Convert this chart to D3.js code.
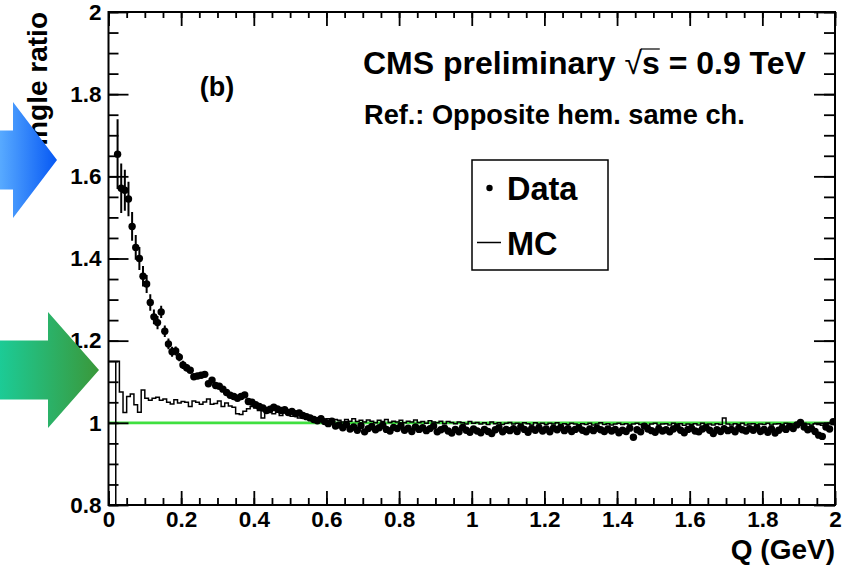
<!DOCTYPE html>
<html>
<head>
<meta charset="utf-8">
<script src="https://cdn.jsdelivr.net/npm/d3@7"></script>
<style>
body { margin: 0; background: #fff; }
text { font-family: "Liberation Sans", Arial, Helvetica, sans-serif; font-weight: bold; fill: #000; }
</style>
</head>
<body>
<div class="chart-container"></div>
<script>
// Binning
const binWidth = 0.01;
const dataFirstCenter = 0.025;

// Data points (single ratio), one per 0.01 GeV bin starting at 0.025
const dataValues = [
    1.654, 1.571, 1.566, 1.545, 1.478, 1.427, 1.400, 1.357, 1.338, 1.293,
    1.258, 1.244, 1.270, 1.223, 1.192, 1.173, 1.175, 1.160, 1.141, 1.134,
    1.128, 1.112, 1.114, 1.116, 1.118, 1.095, 1.104, 1.091, 1.089, 1.082,
    1.074, 1.067, 1.064, 1.060, 1.064, 1.068, 1.052, 1.050, 1.044, 1.040,
    1.036, 1.030, 1.033, 1.038, 1.034, 1.030, 1.032, 1.025, 1.028, 1.022,
    1.024, 1.018, 1.015, 1.012, 1.008, 1.005, 1.010, 1.003,
    0.998, 1.004, 0.992, 0.995, 0.988, 0.996, 0.985, 0.990, 0.982, 0.993,
    0.978, 0.986, 0.991, 0.983, 0.988, 0.994, 0.984, 0.980, 0.989, 0.986,
    0.993, 0.982, 0.987, 0.979, 0.990, 0.984, 0.988, 0.981, 0.986, 0.992,
    0.978, 0.983, 0.987, 0.980, 0.975, 0.984, 0.978, 0.989, 0.982, 0.977,
    0.985, 0.980, 0.976, 0.984, 0.979, 0.974, 0.983, 0.988, 0.978, 0.984,
    0.981, 0.986, 0.979, 0.990, 0.984, 0.977, 0.986, 0.982, 0.988, 0.980,
    0.985, 0.978, 0.987, 0.983, 0.989, 0.981, 0.986, 0.979, 0.984, 0.988,
    0.982, 0.978, 0.985, 0.981, 0.987, 0.983, 0.979, 0.985, 0.980, 0.984,
    0.976, 0.982, 0.979, 0.987, 0.965, 0.983, 0.978, 0.992, 0.985, 0.981,
    0.977, 0.986, 0.980, 0.983, 0.978, 0.985, 0.990, 0.982, 0.976, 0.984,
    0.987, 0.980, 0.978, 0.985, 0.989, 0.982, 0.974, 0.983, 0.979, 0.986,
    0.981, 0.984, 0.978, 0.987, 0.983, 0.980, 0.986, 0.982, 0.988, 0.979,
    0.984, 0.977, 0.985, 0.975, 0.982, 0.988, 0.984, 0.991, 0.986, 0.995,
    1.001, 0.990, 0.983, 0.986, 0.979, 0.970, 0.967, 0.990, 0.985, 1.003
];

// Errors that are visible outside the markers (first bins only)
const dataErrors = [
    0.085, 0.060, 0.050, 0.042, 0.035, 0.030, 0.028, 0.025, 0.022, 0.020,
    0.018, 0.016, 0.015, 0.014, 0.013, 0.012, 0.011, 0.010, 0.010, 0.009
];

// MC histogram, 200 bins of 0.01 GeV from 0
const mcValues = [
    1.150, 1.150, 1.150, 1.075, 1.025, 1.064, 1.070, 1.044, 1.026, 1.080,
    1.060, 1.055, 1.060, 1.062, 1.055, 1.058, 1.050, 1.046, 1.056, 1.048,
    1.052, 1.050, 1.040, 1.053, 1.050, 1.045, 1.051, 1.058, 1.045, 1.047,
    1.053, 1.040, 1.048, 1.041, 1.038, 1.022, 1.020, 1.028, 1.034, 1.040,
    1.036, 1.030, 1.012, 1.030, 1.025, 1.022, 1.026, 1.018, 1.024, 1.020,
    1.016, 1.020, 1.012, 1.018, 1.010, 1.014, 1.008, 1.012, 1.010, 1.006,
    1.010, 1.004, 1.008, 1.006, 1.002, 1.008, 1.004, 1.010, 1.003, 1.006,
    1.002, 1.007, 1.004, 1.000, 1.006, 1.003, 1.008, 1.001, 1.004, 1.002,
    1.006, 1.000, 1.004, 1.002, 1.007, 1.001, 1.003, 0.999, 1.005, 1.002,
    1.000, 1.004, 0.998, 1.003, 1.001, 0.998, 1.002, 1.000, 0.997, 1.003,
    0.999, 1.001, 0.997, 1.000, 0.996, 1.002, 0.998, 1.000, 0.996, 0.999,
    1.001, 0.997, 0.999, 0.996, 1.000, 0.998, 0.995, 1.000, 0.997, 0.999,
    0.996, 0.999, 0.997, 1.000, 0.995, 0.998, 0.996, 0.999, 0.997, 0.995,
    0.998, 0.996, 0.999, 0.995, 0.997, 1.000, 0.996, 0.998, 0.995, 0.997,
    0.999, 0.996, 0.998, 0.995, 0.997, 0.999, 0.996, 0.998, 0.994, 0.997,
    0.999, 0.995, 0.997, 0.998, 0.995, 0.999, 0.996, 0.998, 0.994, 0.997,
    0.996, 0.998, 0.995, 0.999, 0.996, 0.997, 0.995, 0.998, 0.996, 1.012,
    0.997, 0.995, 0.998, 0.996, 0.999, 0.995, 0.997, 0.998, 0.995, 0.997,
    0.996, 0.999, 0.995, 0.997, 0.998, 0.996, 0.999, 0.995, 0.997, 0.998,
    0.996, 0.999, 0.997, 0.995, 0.998, 0.996, 0.994, 0.997, 0.999, 0.996
];
// bin edge where the MC outline drops to the frame bottom
const mcDropEdges = [0.02];

const refLevel = 1;

// Axes
const xDomain = [0, 2];
const yDomain = [0.8, 2];
const xTicks = [0, 0.2, 0.4, 0.6, 0.8, 1, 1.2, 1.4, 1.6, 1.8, 2];
const xTickLabels = ['0', '0.2', '0.4', '0.6', '0.8', '1', '1.2', '1.4', '1.6', '1.8', '2'];
const yTicks = [0.8, 1, 1.2, 1.4, 1.6, 1.8, 2];
const yTickLabels = ['0.8', '1', '1.2', '1.4', '1.6', '1.8', '2'];

const xTitle = 'Q (GeV)';
const yTitle = 'Single ratio';
const panelLabel = '(b)';
const legendLabels = ['Data', 'MC'];

// Margin Convention
const margin = { top: 12, right: 17, bottom: 62, left: 108.5 };
const width = 852 - margin.left - margin.right;
const height = 567 - margin.top - margin.bottom;

const svg = d3.select('.chart-container')
    .append('svg')
    .attr('width', 852)
    .attr('height', 567);

const defs = svg.append('defs');
defs.append('clipPath').attr('id', 'frame-clip')
    .append('rect').attr('width', width).attr('height', height);

const g = svg.append('g')
    .attr('transform', `translate(${margin.left},${margin.top})`);

// Scales
const xScale = d3.scaleLinear().domain(xDomain).range([0, width]);
const yScale = d3.scaleLinear().domain(yDomain).range([height, 0]);

// Reference line at 1
g.append('line')
    .attr('x1', xScale(xDomain[0]))
    .attr('x2', xScale(xDomain[1]))
    .attr('y1', yScale(refLevel))
    .attr('y2', yScale(refLevel))
    .attr('stroke', '#40e040')
    .attr('stroke-width', 2.6);

// MC histogram outline
const plot = g.append('g').attr('clip-path', 'url(#frame-clip)');
const mcPoints = mcValues.map((v, i) => [i * binWidth, v]);
mcPoints.push([mcValues.length * binWidth, mcValues[mcValues.length - 1]]);

const mcLine = d3.line()
    .x(d => xScale(d[0]))
    .y(d => yScale(d[1]))
    .curve(d3.curveStepAfter);

plot.append('path')
    .attr('d', mcLine(mcPoints))
    .attr('fill', 'none')
    .attr('stroke', '#000')
    .attr('stroke-width', 1.5);

plot.selectAll('.mc-drop')
    .data(mcDropEdges)
    .enter()
    .append('line')
    .attr('class', 'mc-drop')
    .attr('x1', d => xScale(d))
    .attr('x2', d => xScale(d))
    .attr('y1', yScale(yDomain[0]))
    .attr('y2', d => yScale(mcValues[Math.round(d / binWidth)]))
    .attr('stroke', '#000')
    .attr('stroke-width', 1.5);

// Data
const dataPoints = dataValues.map((v, i) => ({
    q: dataFirstCenter + i * binWidth,
    r: v,
    err: dataErrors[i]
}));

plot.selectAll('.err')
    .data(dataPoints.filter(d => d.err !== undefined))
    .enter()
    .append('line')
    .attr('class', 'err')
    .attr('x1', d => xScale(d.q))
    .attr('x2', d => xScale(d.q))
    .attr('y1', d => yScale(d.r - d.err))
    .attr('y2', d => yScale(d.r + d.err))
    .attr('stroke', '#000')
    .attr('stroke-width', 2);

plot.selectAll('.pt')
    .data(dataPoints)
    .enter()
    .append('circle')
    .attr('class', 'pt')
    .attr('cx', d => xScale(d.q))
    .attr('cy', d => yScale(d.r))
    .attr('r', 3.7)
    .attr('fill', '#000');

// Axes (ROOT style ticks inside on all four sides)
const xMinor = xScale.ticks(40);
const yMinor = yScale.ticks(24);

function styleAxis(sel) {
    sel.attr('font-size', null).attr('font-family', null);
    sel.select('.domain').remove();
    sel.selectAll('line').attr('stroke', '#000').attr('stroke-width', 1.8);
    sel.selectAll('text').style('font-size', '22.5px');
}

g.append('g')
    .attr('transform', `translate(0,${height})`)
    .call(d3.axisBottom(xScale).tickValues(xMinor).tickSize(-7).tickFormat(''))
    .call(styleAxis);
g.append('g')
    .attr('transform', `translate(0,${height})`)
    .call(d3.axisBottom(xScale).tickValues(xTicks).tickSizeInner(-14).tickSizeOuter(0)
        .tickPadding(6).tickFormat((d, i) => xTickLabels[i]))
    .call(styleAxis);

g.append('g')
    .call(d3.axisTop(xScale).tickValues(xMinor).tickSize(-6).tickFormat(''))
    .call(styleAxis);
g.append('g')
    .call(d3.axisTop(xScale).tickValues(xTicks).tickSize(-14).tickFormat(''))
    .call(styleAxis);

g.append('g')
    .call(d3.axisLeft(yScale).tickValues(yMinor).tickSize(-10).tickFormat(''))
    .call(styleAxis);
g.append('g')
    .call(d3.axisLeft(yScale).tickValues(yTicks).tickSizeInner(-20).tickSizeOuter(0)
        .tickPadding(7).tickFormat((d, i) => yTickLabels[i]))
    .call(styleAxis);

g.append('g')
    .attr('transform', `translate(${width},0)`)
    .call(d3.axisRight(yScale).tickValues(yMinor).tickSize(-11).tickFormat(''))
    .call(styleAxis);
g.append('g')
    .attr('transform', `translate(${width},0)`)
    .call(d3.axisRight(yScale).tickValues(yTicks).tickSize(-21).tickFormat(''))
    .call(styleAxis);

// Frame
g.append('rect')
    .attr('width', width)
    .attr('height', height)
    .attr('fill', 'none')
    .attr('stroke', '#000')
    .attr('stroke-width', 2);

// Axis titles
svg.append('text')
    .attr('x', 835)
    .attr('y', 559)
    .attr('text-anchor', 'end')
    .style('font-size', '28px')
    .text(xTitle);

svg.append('text')
    .attr('transform', 'translate(47,12) rotate(-90)')
    .attr('text-anchor', 'end')
    .style('font-size', '28px')
    .text(yTitle);

// Panel texts
svg.append('text')
    .attr('x', 217)
    .attr('y', 96)
    .attr('text-anchor', 'middle')
    .style('font-size', '27px')
    .text(panelLabel);

const cms = svg.append('text')
    .attr('x', 363)
    .attr('y', 74)
    .style('font-size', '32px');
cms.append('tspan').text('CMS preliminary ');
cms.append('tspan').style('font-weight', 'normal').text('\u221A');
cms.append('tspan').text('s');
cms.append('tspan').text(' = 0.9 TeV');
const sIdx = 'CMS preliminary \u221A'.length;
const cmsNode = cms.node();
const sx0 = cmsNode.getStartPositionOfChar(sIdx).x;
const sx1 = cmsNode.getEndPositionOfChar(sIdx).x;
svg.append('line')
    .attr('x1', sx0 - 1).attr('x2', sx1)
    .attr('y1', 74 - 25).attr('y2', 74 - 25)
    .attr('stroke', '#000').attr('stroke-width', 1.2);

svg.append('text')
    .attr('x', 364)
    .attr('y', 124)
    .style('font-size', '27.2px')
    .text('Ref.: Opposite hem. same ch.');

// Legend
const legend = svg.append('g').attr('transform', 'translate(472,160)');
legend.append('rect')
    .attr('width', 136)
    .attr('height', 110)
    .attr('fill', '#fff')
    .attr('stroke', '#000')
    .attr('stroke-width', 1.5);
legend.append('circle').attr('cx', 17.5).attr('cy', 28).attr('r', 3.2).attr('fill', '#000');
legend.append('line').attr('x1', 5).attr('x2', 29).attr('y1', 82.5).attr('y2', 82.5)
    .attr('stroke', '#000').attr('stroke-width', 1.5);
legend.selectAll('.leg-text')
    .data(legendLabels)
    .enter()
    .append('text')
    .attr('class', 'leg-text')
    .attr('x', 35)
    .attr('y', (d, i) => 40 + i * 55)
    .style('font-size', '32.5px')
    .text(d => d);

// Arrows overlay
const blueGrad = defs.append('linearGradient').attr('id', 'blue-grad')
    .attr('x1', '0%').attr('x2', '100%');
blueGrad.append('stop').attr('offset', '0%').attr('stop-color', '#58aaff');
blueGrad.append('stop').attr('offset', '100%').attr('stop-color', '#0658f4');

const greenGrad = defs.append('linearGradient').attr('id', 'green-grad')
    .attr('x1', '0%').attr('x2', '100%');
greenGrad.append('stop').attr('offset', '0%').attr('stop-color', '#1ccb96');
greenGrad.append('stop').attr('offset', '100%').attr('stop-color', '#3a983a');

function arrowPath(x0, xh, xt, yc, shaftHalf, headHalf) {
    return `M${x0},${yc - shaftHalf} L${xh},${yc - shaftHalf} L${xh},${yc - headHalf} ` +
        `L${xt},${yc} L${xh},${yc + headHalf} L${xh},${yc + shaftHalf} L${x0},${yc + shaftHalf} Z`;
}

svg.append('path')
    .attr('d', arrowPath(0, 13, 57, 160, 29.5, 58))
    .attr('fill', 'url(#blue-grad)');

svg.append('path')
    .attr('d', arrowPath(0, 48, 99, 370, 29.5, 58))
    .attr('fill', 'url(#green-grad)');
</script>
</body>
</html>
